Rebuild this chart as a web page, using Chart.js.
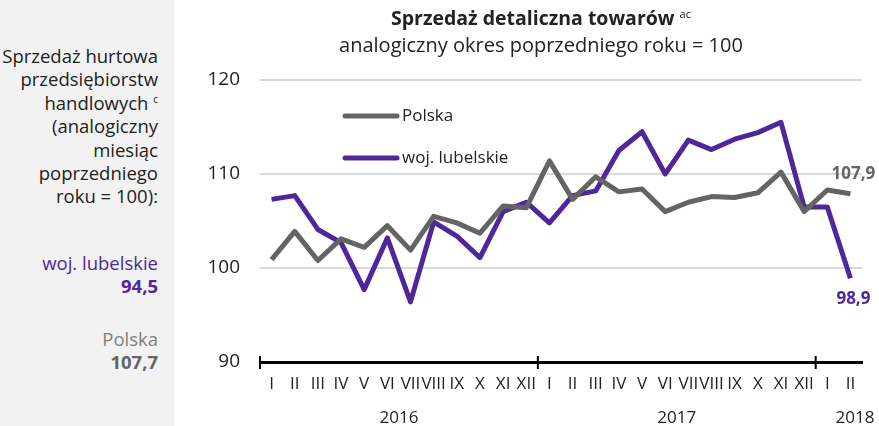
<!DOCTYPE html>
<html>
<head>
<meta charset="utf-8">
<script src="https://cdn.jsdelivr.net/npm/chart.js@4"></script>
<style>
  body { margin: 0; width: 879px; height: 426px; overflow: hidden; background: #fff; position: relative;
         font-family: 'Open Sans', sans-serif; color: #222; }
  #side { position: absolute; left: 0; top: 0; width: 174px; height: 426px; background: #f2f2f2; overflow: hidden; }
  #side .txt { position: absolute; right: 16px; text-align: right; font-size: 18.5px; line-height: 23.4px; white-space: nowrap; }
  #side sup { font-size: 10px; vertical-align: 7px; line-height: 0; }
  #title { position: absolute; left: 174px; width: 734px; top: 4px; text-align: center; font-size: 20px; line-height: 27px; }
  #title b { font-size: 19.5px; }
  #title b sup { font-weight: normal; font-size: 11px; vertical-align: 7px; line-height: 0; }
  #wrap { position: absolute; left: 174px; top: 0; width: 705px; height: 426px; }
</style>
</head>
<body>
<div id="side">
  <div class="txt" style="top:44px">Sprzedaż hurtowa<br>przedsiębiorstw<br>handlowych <sup>c</sup><br>(analogiczny<br>miesiąc<br>poprzedniego<br>roku = 100):</div>
  <div class="txt" style="top:251px;color:#50279b">woj. lubelskie<br><b>94,5</b></div>
  <div class="txt" style="top:327px;color:#808080">Polska<br><b style="color:#646464">107,7</b></div>
</div>
<div id="wrap"><canvas id="chart"></canvas></div>
<div id="title"><b>Sprzedaż detaliczna towarów <sup>ac</sup></b><br>analogiczny okres poprzedniego roku = 100</div>
<script>
// miesiące i lata
const months = ['I','II','III','IV','V','VI','VII','VIII','IX','X','XI','XII',
                'I','II','III','IV','V','VI','VII','VIII','IX','X','XI','XII',
                'I','II'];
const years = ['2016', '2017', '2018'];
const monthsInYear = [12, 12, 2];

// analogiczny okres poprzedniego roku = 100
const polska = [100.9, 103.9, 100.8, 103.1, 102.2, 104.5, 101.9, 105.5, 104.8, 103.7, 106.6, 106.4,
                111.4, 107.3, 109.7, 108.1, 108.4, 106.0, 107.0, 107.6, 107.5, 108.0, 110.2, 106.0,
                108.3, 107.9];
const lubelskie = [107.3, 107.7, 104.1, 102.7, 97.7, 103.2, 96.4, 104.9, 103.4, 101.1, 106.0, 107.0,
                   104.8, 107.7, 108.2, 112.5, 114.5, 110.0, 113.6, 112.6, 113.7, 114.4, 115.5, 106.5,
                   106.5, 98.9];

const GREY = '#646464';
const PURPLE = '#50279b';
const FONT = "'Open Sans', sans-serif";

const extras = {
  id: 'extras',
  afterDraw(chart) {
    const ctx = chart.ctx;
    const xs = chart.scales.x;
    const area = chart.chartArea;
    const step = xs.getPixelForValue(1) - xs.getPixelForValue(0);
    ctx.save();
    // znaczniki lat na osi i podpisy lat
    ctx.strokeStyle = '#000';
    ctx.lineWidth = 2;
    ctx.fillStyle = '#222';
    ctx.font = '17px ' + FONT;
    ctx.textAlign = 'center';
    ctx.textBaseline = 'middle';
    let start = 0;
    years.forEach((y, i) => {
      const x0 = xs.getPixelForValue(start) - step / 2;
      const x1 = xs.getPixelForValue(start + monthsInYear[i] - 1) + step / 2;
      ctx.beginPath();
      ctx.moveTo(x0, area.bottom - 6);
      ctx.lineTo(x0, area.bottom + 7);
      ctx.stroke();
      let cx = (x0 + x1) / 2;
      if (i === years.length - 1) cx = x1 - 7;
      ctx.fillText(y, cx, 418);
      start += monthsInYear[i];
    });
    // legenda
    ctx.lineCap = 'round';
    ctx.lineWidth = 5;
    ctx.textAlign = 'left';
    chart.data.datasets.forEach((ds, i) => {
      const ly = 116 + i * 42;
      ctx.strokeStyle = ds.borderColor;
      ctx.beginPath();
      ctx.moveTo(171, ly);
      ctx.lineTo(223, ly);
      ctx.stroke();
      ctx.fillStyle = '#222';
      ctx.fillText(ds.label, 228, ly);
    });
    // etykiety ostatnich wartości
    ctx.font = 'bold 17px ' + FONT;
    ctx.textAlign = 'center';
    chart.data.datasets.forEach((ds, i) => {
      const meta = chart.getDatasetMeta(i);
      const pt = meta.data[meta.data.length - 1];
      const v = ds.data[ds.data.length - 1];
      ctx.fillStyle = ds.borderColor;
      const dy = i === 0 ? -20 : 21;
      ctx.fillText(v.toFixed(1).replace('.', ','), pt.x + 3, pt.y + dy);
    });
    ctx.restore();
  }
};

new Chart(document.getElementById('chart'), {
  type: 'line',
  data: {
    labels: months,
    datasets: [
      { label: 'Polska', data: polska, borderColor: GREY, borderWidth: 5, pointRadius: 0, borderJoinStyle: 'round', tension: 0 },
      { label: 'woj. lubelskie', data: lubelskie, borderColor: PURPLE, borderWidth: 5, pointRadius: 0, borderJoinStyle: 'round', tension: 0 }
    ]
  },
  options: {
    responsive: true,
    maintainAspectRatio: false,
    animation: false,
    layout: { padding: { top: 80, right: 17, left: 0, bottom: 0 } },
    plugins: { legend: { display: false }, tooltip: { enabled: false } },
    scales: {
      x: {
        offset: true,
        grid: { display: false, drawTicks: false },
        border: { display: true, color: '#000', width: 3 },
        ticks: { color: '#222', font: { size: 17, family: FONT }, padding: 12, autoSkip: false, maxRotation: 0, minRotation: 0 },
        afterFit: s => { s.height = 64; }
      },
      y: {
        min: 90, max: 120,
        grid: { drawTicks: false, lineWidth: 2, color: c => c.tick && c.tick.value === 90 ? 'rgba(0,0,0,0)' : '#d9d9d9' },
        border: { display: false },
        ticks: { stepSize: 10, color: '#222', font: { size: 19, family: FONT }, padding: 20 },
        afterFit: s => { s.width = 86; }
      }
    }
  },
  plugins: [extras]
});
</script>
</body>
</html>
